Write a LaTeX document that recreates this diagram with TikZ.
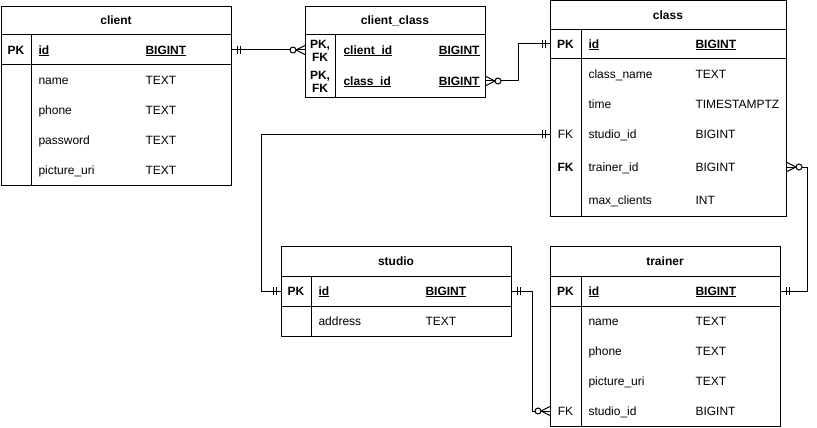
\documentclass[tikz,border=0pt]{standalone}
\usepackage{fontspec}
\setmainfont{Liberation Sans}
\newcommand\ulx[1]{{\setbox0=\hbox{#1}\rlap{\rule[-2pt]{\wd0}{0.9pt}}\box0}}
\newcommand{\mandOne}[2]{\draw (#1) ++({#2*5},-4) -- ++(0,8) (#1) ++({#2*8},-4) -- ++(0,8);}
\newcommand{\zeroMany}[2]{\draw (#1) ++({#2*9},0) -- ++({-1*(#2)*9},-4.5) (#1) ++({#2*9},0) -- ++({-1*(#2)*9},4.5);
  \draw[fill=white] (#1) ++({#2*12},0) circle (3);}
\begin{document}
\begin{tikzpicture}[x=1pt,y=-1pt,line width=1pt,
  every node/.style={inner sep=0pt, font=\fontsize{12pt}{14pt}\selectfont},
  txt/.style={anchor=west, text height=8.6pt, text depth=0pt},
  bld/.style={font=\fontsize{12pt}{14pt}\selectfont\bfseries},
  ctr/.style={anchor=center, text height=8.6pt, text depth=0pt},
  row/.style={minimum height=30pt, anchor=west},
  tbl/.style={draw, anchor=north west},
  pkfk/.style={anchor=center, align=center, font=\fontsize{12pt}{12.5pt}\selectfont\bfseries}]
\useasboundingbox[fill=white] (0,0) rectangle (817,428);

% ---------- client ----------
\node[tbl, minimum width=230pt, minimum height=179pt] (client) at (1,6) {};
\draw (1,35) -- (231,35) (1,65) -- (231,65) (31,35) -- (31,185);
\node[ctr,bld] (client-t) at (116,20.5) {client};
\node[row, minimum width=230pt] (client-id) at (1,50) {};
\node[ctr,bld] at (16,50) {PK};
\node[txt,bld] at (38,50) {\ulx{id}};
\node[txt,bld] at (145,50) {\ulx{BIGINT}};
\node[txt] at (38,80) {name};        \node[txt] at (145,80) {TEXT};
\node[txt] at (38,110) {phone};      \node[txt] at (145,110) {TEXT};
\node[txt] at (38,140) {password};   \node[txt] at (145,140) {TEXT};
\node[txt] at (38,170) {picture\_uri}; \node[txt] at (145,170) {TEXT};

% ---------- client_class ----------
\node[tbl, minimum width=180pt, minimum height=91pt] (cc) at (305,6) {};
\draw (305,35) -- (485,35) (335,35) -- (335,97);
\node[ctr,bld] (cc-t) at (395,20.5) {client\_class};
\node[row, minimum width=180pt] (cc-client) at (305,50) {};
\node[row, minimum width=180pt, minimum height=31pt] (cc-class) at (305,81) {};
\node[pkfk] at (320,51) {PK,\\FK};
\node[pkfk] at (320,82) {PK,\\FK};
\node[txt,bld] at (343,50) {\ulx{client\_id}};
\node[txt,bld,anchor=east] at (480,50) {\ulx{BIGINT}};
\node[txt,bld] at (343,81) {\ulx{class\_id}};
\node[txt,bld,anchor=east] at (480,81) {\ulx{BIGINT}};

% ---------- class ----------
\node[tbl, minimum width=236pt, minimum height=215pt] (class) at (550,0.5) {};
\draw (550,29.5) -- (786,29.5) (550,59) -- (786,59) (581,29.5) -- (581,215.5);
\node[ctr,bld] (class-t) at (668,15) {class};
\node[row, minimum width=236pt] (class-id) at (550,44) {};
\node[row, minimum width=236pt] (class-studio) at (550,134) {};
\node[row, minimum width=236pt] (class-trainer) at (550,167) {};
\node[ctr,bld] at (565.5,44) {PK};
\node[txt,bld] at (588,44) {\ulx{id}};
\node[txt,bld] at (695,44) {\ulx{BIGINT}};
\node[txt] at (588,74) {class\_name}; \node[txt] at (695,74) {TEXT};
\node[txt] at (588,104) {time};       \node[txt] at (695,104) {TIMESTAMPTZ};
\node[ctr] at (565.5,134) {FK};
\node[txt] at (588,134) {studio\_id};  \node[txt] at (695,134) {BIGINT};
\node[ctr,bld] at (565.5,167) {FK};
\node[txt] at (588,167) {trainer\_id}; \node[txt] at (695,167) {BIGINT};
\node[txt] at (588,200) {max\_clients}; \node[txt] at (695,200) {INT};

% ---------- studio ----------
\node[tbl, minimum width=230pt, minimum height=90pt] (studio) at (281,246) {};
\draw (281,276) -- (511,276) (281,306) -- (511,306) (311,276) -- (311,336);
\node[ctr,bld] (studio-t) at (396,261) {studio};
\node[row, minimum width=230pt] (studio-id) at (281,291) {};
\node[ctr,bld] at (296,291) {PK};
\node[txt,bld] at (318,291) {\ulx{id}};
\node[txt,bld] at (425,291) {\ulx{BIGINT}};
\node[txt] at (318,321) {address}; \node[txt] at (425,321) {TEXT};

% ---------- trainer ----------
\node[tbl, minimum width=230pt, minimum height=180pt] (trainer) at (550,246) {};
\draw (550,276) -- (780,276) (550,306) -- (780,306) (581,276) -- (581,426);
\node[ctr,bld] (trainer-t) at (665,261) {trainer};
\node[row, minimum width=230pt] (trainer-id) at (550,291) {};
\node[row, minimum width=230pt] (trainer-studio) at (550,411) {};
\node[ctr,bld] at (565.5,291) {PK};
\node[txt,bld] at (588,291) {\ulx{id}};
\node[txt,bld] at (695,291) {\ulx{BIGINT}};
\node[txt] at (588,321) {name};        \node[txt] at (695,321) {TEXT};
\node[txt] at (588,351) {phone};       \node[txt] at (695,351) {TEXT};
\node[txt] at (588,381) {picture\_uri}; \node[txt] at (695,381) {TEXT};
\node[ctr] at (565.5,411) {FK};
\node[txt] at (588,411) {studio\_id};  \node[txt] at (695,411) {BIGINT};

% ---------- connectors ----------
\draw (client-id.east) -- (cc-client.west);
\mandOne{client-id.east}{1}
\zeroMany{cc-client.west}{-1}

\draw (cc-class.east) -- ++(32,0) |- (class-id.west);
\zeroMany{cc-class.east}{1}
\mandOne{class-id.west}{-1}

\draw (class-studio.west) -- ([xshift=-20pt]studio-id.west |- class-studio.west) |- (studio-id.west);
\mandOne{class-studio.west}{-1}
\mandOne{studio-id.west}{-1}

\draw (class-trainer.east) -- ++(20,0) |- (trainer-id.east);
\zeroMany{class-trainer.east}{1}
\mandOne{trainer-id.east}{1}

\draw (studio-id.east) -- ++(20,0) |- (trainer-studio.west);
\mandOne{studio-id.east}{1}
\zeroMany{trainer-studio.west}{-1}
\end{tikzpicture}
\end{document}
